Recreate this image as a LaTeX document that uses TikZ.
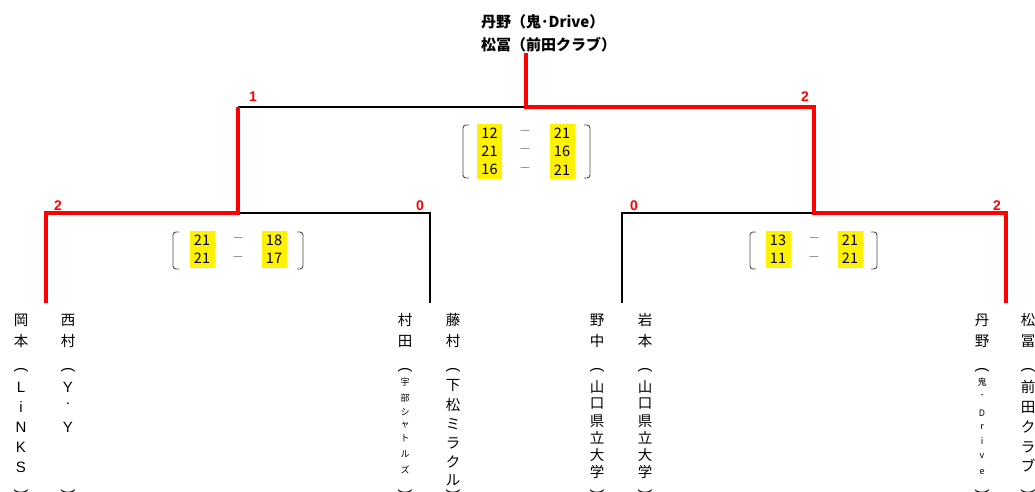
\documentclass[tikz,border=0pt]{standalone}
\usepackage{fontspec}
\usepackage{graphicx}
\setmainfont{Noto Sans CJK JP}
\newfontfamily\arial{Liberation Sans}
\begin{document}
\begin{tikzpicture}[x=1pt,y=-1pt,
  blk/.style={line width=1.6pt,black},
  redline/.style={line width=3.6pt,draw=red},
  lab/.style={inner sep=0,text=red,font=\arial\bfseries\fontsize{14}{14}\selectfont},
  cell/.style={fill=yellow,inner sep=0,minimum width=25,minimum height=18.5,font=\fontsize{14.5}{14.5}\selectfont},
  dsh/.style={inner sep=0,text=gray,font=\fontsize{12}{12}\selectfont},
  brk/.style={line width=0.9pt,black!70,rounded corners=3pt},
  nm/.style={inner sep=0,font=\fontsize{14.5}{14.5}\selectfont},
  lat/.style={inner sep=0,font=\arial\fontsize{15}{15}\selectfont},
  sm/.style={inner sep=0,font=\fontsize{9}{9}\selectfont},
  opn/.style={inner sep=0,font=\arial\fontsize{15}{15}\selectfont},
  ttl/.style={inner sep=0,align=left,font=\bfseries\fontsize{15}{23}\selectfont}]
\useasboundingbox (0,0) rectangle (1035,491);
% title
\node[ttl,anchor=west] (title1) at (481,22) {丹野（鬼･Drive）};
\node[ttl,anchor=west] (title2) at (481,45) {松冨（前田クラブ）};
% coordinates
\coordinate (top) at (526,53);
\coordinate (fin) at (526,107);
\coordinate (sl) at (238,107);
\coordinate (sr) at (814,107);
\coordinate (slb) at (238,213);
\coordinate (srb) at (814,213);
\coordinate (q1) at (46,213);
\coordinate (q2) at (430,213);
\coordinate (q3) at (622,213);
\coordinate (q4) at (1006,213);
\coordinate (e1) at (46,303);
\coordinate (e2) at (430,303);
\coordinate (e3) at (622,303);
\coordinate (e4) at (1006,303);
% black lines
\draw[blk] (fin) -- (sl);
\draw[blk] (slb) -- (q2) -- (e2);
\draw[blk] (srb) -- (q3) -- (e3);
% red lines
\draw[redline] (top) -- (fin) -- (sr) -- (srb) -- (q4) -- (e4);
\draw[redline] (sl) -- (slb) -- (q1) -- (e1);
% labels
\node[lab] (l1) at (253,97) {1};
\node[lab] (l2) at (805,97) {2};
\node[lab] (l3) at (58,206) {2};
\node[lab] (l4) at (420,206) {0};
\node[lab] (l5) at (634,206) {0};
\node[lab] (l6) at (997,206) {2};
% top score box
\draw[brk] (469,125) -- (463,125) -- (463,178) -- (469,178);
\draw[brk] (584,125) -- (590,125) -- (590,178) -- (584,178);
\node[cell] (t1a) at (489.5,133.2) {12};
\node[dsh]  (t1d) at (525,133.2) {－};
\node[cell] (t1b) at (562,133.2) {21};
\node[cell] (t2a) at (489.5,151.5) {21};
\node[dsh]  (t2d) at (525,151.5) {－};
\node[cell] (t2b) at (562,151.5) {16};
\node[cell] (t3a) at (489.5,169.8) {16};
\node[dsh]  (t3d) at (525,169.8) {－};
\node[cell] (t3b) at (562,169.8) {21};
% left score box
\draw[brk] (179,232) -- (173,232) -- (173,269) -- (179,269);
\draw[brk] (297,232) -- (303,232) -- (303,269) -- (297,269);
\node[cell] (la1) at (202,240.3) {21};
\node[dsh]  (ld1) at (238,240.3) {－};
\node[cell] (lb1) at (274,240.3) {18};
\node[cell] (la2) at (202,258.7) {21};
\node[dsh]  (ld2) at (238,258.7) {－};
\node[cell] (lb2) at (274,258.7) {17};
% right score box
\draw[brk] (756,232) -- (750,232) -- (750,269) -- (756,269);
\draw[brk] (871,232) -- (877,232) -- (877,269) -- (871,269);
\node[cell] (ra1) at (778,240.3) {13};
\node[dsh]  (rd1) at (814,240.3) {－};
\node[cell] (rb1) at (850,240.3) {21};
\node[cell] (ra2) at (778,258.7) {11};
\node[dsh]  (rd2) at (814,258.7) {－};
\node[cell] (rb2) at (850,258.7) {21};
% player names (vertical)
\foreach \x/\lst [count=\k] in {21/{岡/320,本/341},
  68/{西/320,村/341},
  405/{村/320,田/341},
  453/{藤/320,村/341,下/386,松/405,ミ/424,ラ/443,ク/462,ル/480},
  597/{野/320,中/341,山/387,口/404,県/421,立/438,大/455,学/472},
  645/{岩/320,本/341,山/387,口/404,県/421,立/438,大/455,学/472},
  982/{丹/320,野/341},
  1028/{松/320,冨/341,前/387,田/407,ク/427,ラ/447,ブ/466}}{
  \foreach \c/\y [count=\j] in \lst {
    \node[nm] (p\k-\j) at (\x,\y) {\c};
  }
  \node[opn] (po\k) at (\x,371) {\rotatebox[origin=c]{-90}{(}};
  \node[opn] (pc\k) at (\x,493) {\rotatebox[origin=c]{-90}{)}};
}
\foreach \x/\lst [count=\k] in {21/{L/387,i/407,N/427,K/447,S/467},
  68/{Y/387,./404,Y/427}}{
  \foreach \c/\y [count=\j] in \lst {
    \node[lat] (a\k-\j) at (\x,\y) {\c};
  }
}
\foreach \x/\lst [count=\k] in {405/{宇/382,部/398,シ/412,ャ/425,ト/438,ル/454,ズ/470},
  982/{鬼/382,･/396,D/413,r/427,i/441,v/456,e/472}}{
  \foreach \c/\y [count=\j] in \lst {
    \node[sm] (s\k-\j) at (\x,\y) {\c};
  }
}
\end{tikzpicture}
\end{document}
